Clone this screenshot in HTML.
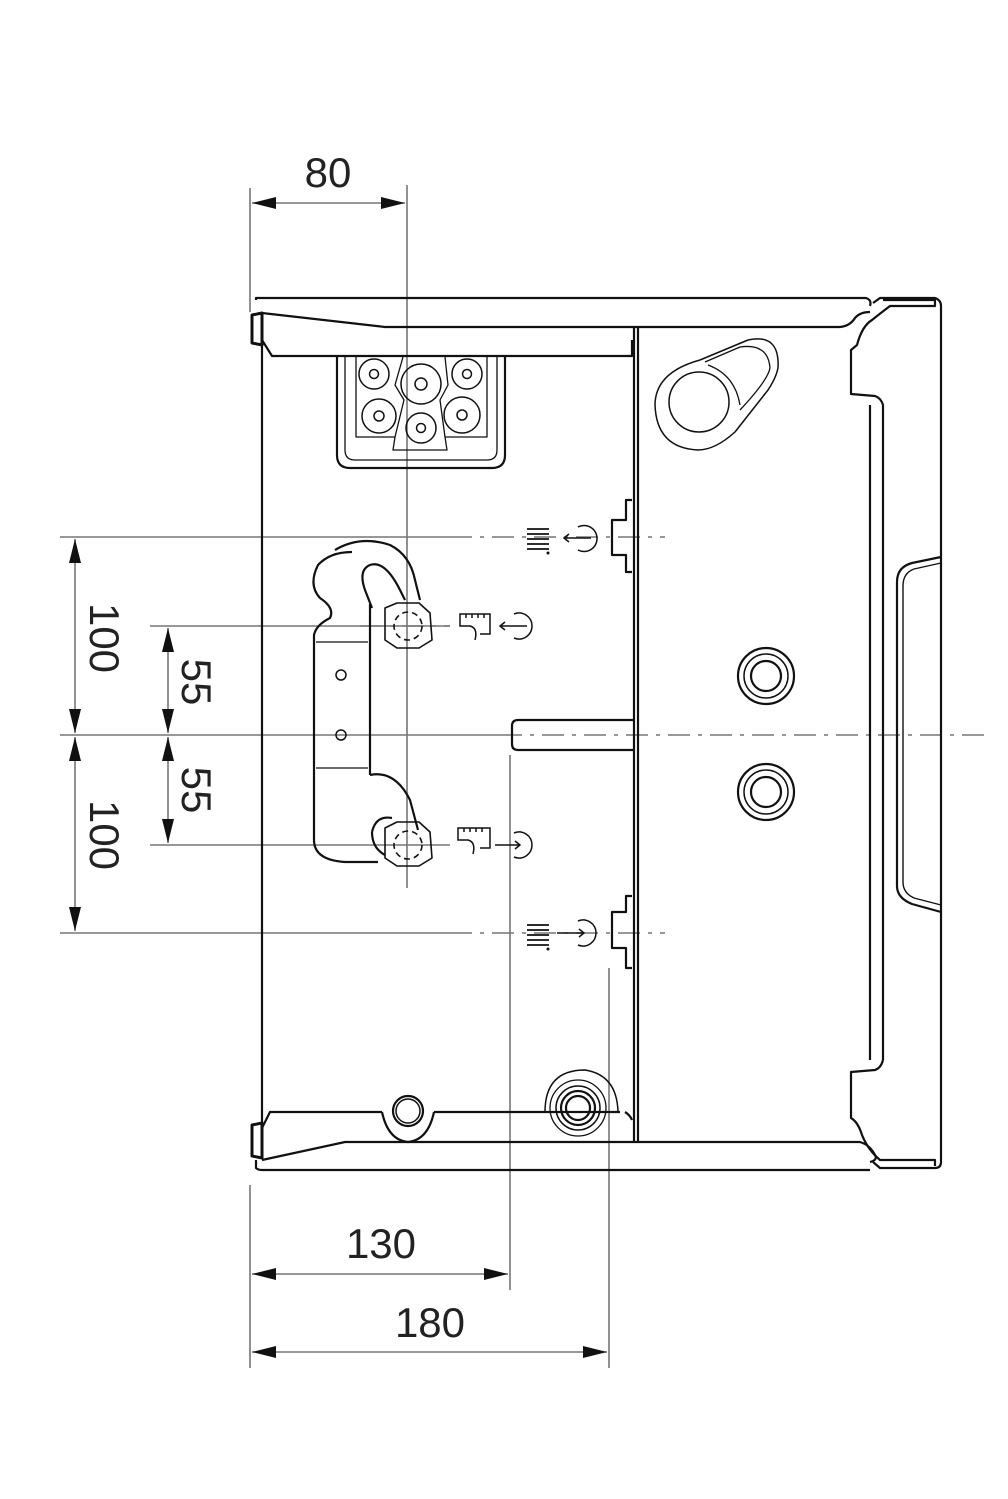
<!DOCTYPE html>
<html><head><meta charset="utf-8"><style>
html,body{margin:0;padding:0;background:#fff}
svg{display:block}
text{font-family:"Liberation Sans",sans-serif;font-size:42px;fill:#222}
</style></head><body>
<svg width="1008" height="1499" viewBox="0 0 1008 1499" xmlns="http://www.w3.org/2000/svg">
<defs>
<marker id="a" markerWidth="24" markerHeight="12" refX="24" refY="6" orient="auto" markerUnits="userSpaceOnUse"><path d="M0,0 L24,6 L0,12 z" fill="#111"/></marker>
<marker id="b" markerWidth="24" markerHeight="12" refX="0" refY="6" orient="auto" markerUnits="userSpaceOnUse"><path d="M24,0 L0,6 L24,12 z" fill="#111"/></marker>
</defs>
<g fill="none" stroke="#777" stroke-width="1.6">
<!-- dimension / extension lines -->
<line x1="250" y1="188" x2="250" y2="312"/>
<line x1="407" y1="185" x2="407" y2="888"/>
<line x1="252" y1="203" x2="405" y2="203" marker-start="url(#b)" marker-end="url(#a)"/>
<line x1="60" y1="537" x2="450" y2="537"/>
<line x1="150" y1="626" x2="450" y2="626"/>
<line x1="150" y1="845" x2="450" y2="845"/>
<line x1="60" y1="933" x2="450" y2="933"/>
<line x1="60" y1="735" x2="500" y2="735"/>
<line x1="75" y1="539" x2="75" y2="733" marker-start="url(#b)" marker-end="url(#a)"/>
<line x1="75" y1="737" x2="75" y2="931" marker-start="url(#b)" marker-end="url(#a)"/>
<line x1="168" y1="628" x2="168" y2="733" marker-start="url(#b)" marker-end="url(#a)"/>
<line x1="168" y1="737" x2="168" y2="843" marker-start="url(#b)" marker-end="url(#a)"/>
<line x1="250" y1="1185" x2="250" y2="1368"/>
<line x1="510" y1="755" x2="510" y2="1290"/>
<line x1="609" y1="968" x2="609" y2="1368"/>
<line x1="252" y1="1274" x2="508" y2="1274" marker-start="url(#b)" marker-end="url(#a)"/>
<line x1="252" y1="1352" x2="607" y2="1352" marker-start="url(#b)" marker-end="url(#a)"/>
<!-- dash-dot center lines -->
<g stroke-dasharray="22,8,4,8">
<line x1="450" y1="537" x2="665" y2="537"/>
<line x1="450" y1="933" x2="665" y2="933"/>
<line x1="500" y1="735" x2="990" y2="735"/>
<line x1="360" y1="626" x2="450" y2="626"/>
</g>
</g>
<text x="328" y="187" text-anchor="middle">80</text>
<text x="381" y="1258" text-anchor="middle">130</text>
<text x="430" y="1337" text-anchor="middle">180</text>
<text transform="translate(90,638) rotate(90)" text-anchor="middle">100</text>
<text transform="translate(182,682) rotate(90)" text-anchor="middle">55</text>
<text transform="translate(182,790) rotate(90)" text-anchor="middle">55</text>
<text transform="translate(90,835) rotate(90)" text-anchor="middle">100</text>

<g fill="none" stroke="#111" stroke-width="2.2" stroke-linejoin="round">
<!-- top rails -->
<path d="M256,300 L256,298 L866,298 Q872,300 870,306"/>
<path d="M262,313 L385,327 L840,327 Q850,326 855,318 Q860,312 870,312"/>
<path d="M262,340 L272,356 L632,356 L632,340"/>
<line x1="262" y1="313" x2="262" y2="1140"/>
<path d="M252,315 L262,313 L262,345 L252,343 Z" stroke-width="3"/>
<!-- divider -->
<line x1="634" y1="327" x2="634" y2="1142"/>
<line x1="638" y1="327" x2="638" y2="1142"/>
<!-- right cabinet -->
<path d="M873,303 L880,298 L935,298 Q941,300 941,306 L941,1162 Q941,1168 935,1168 L880,1168 L873,1162"/>
<path d="M883,300 L935,300 L935,306 L890,306 Q882,312 872,320 Q862,326 857,345 L851,350 L851,394 L875,396 Q881,398 883,405 L883,1060"/>
<line x1="870" y1="405" x2="870" y2="1060"/>
<path d="M883,1060 Q881,1068 875,1070 L851,1072 L851,1118 Q858,1122 862,1135 Q868,1150 880,1160 L935,1160 L935,1166"/>
<path d="M941,557 L912,563 Q897,567 897,582 L897,886 Q897,898 912,904 L941,912"/>
<path d="M941,563 L914,569 Q903,573 903,586 L903,882 Q903,893 914,898 L941,905" stroke-width="1.4"/>
<!-- bottom rails -->
<path d="M262,1128 L270,1112 L382,1112"/>
<path d="M434,1112 L620,1112"/>
<path d="M625,1112 Q630,1115 632,1120"/>
<path d="M262,1160 L345,1142 L860,1142 Q870,1145 875,1155 Q878,1160 870,1162"/>
<path d="M256,1160 L256,1168 Q258,1170 262,1170 L870,1170"/>
<path d="M252,1125 L262,1123 L262,1158 L252,1156 Z" stroke-width="3"/>
<path d="M382,1112 Q388,1140 408,1142 Q428,1140 434,1112"/>
<!-- connector block -->
<path d="M337,357 L337,455 Q337,468 350,468 L492,468 Q505,468 505,455 L505,357"/>
<path d="M345,357 L345,450 Q345,460 355,460 L487,460 Q497,460 497,450 L497,357" stroke-width="1.3"/>
<path d="M356,357 L356,437 L395,437 L393,450 L447,450 L445,437 L487,437 L487,357" stroke-width="1.3"/>
<path d="M403,357 L395,385 L404,400 L395,437 M445,357 L448,385 L440,400 L445,437" stroke-width="1.3"/>
<g stroke-width="1.5">
<circle cx="374" cy="374" r="15"/><circle cx="374" cy="374" r="4.5"/>
<circle cx="421" cy="384" r="20"/><circle cx="421" cy="384" r="6"/>
<circle cx="467" cy="374" r="15"/><circle cx="467" cy="374" r="4.5"/>
<circle cx="379" cy="416" r="17"/><circle cx="379" cy="416" r="5"/>
<circle cx="421" cy="428" r="15"/><circle cx="421" cy="428" r="4.5"/>
<circle cx="462" cy="415" r="18"/><circle cx="462" cy="415" r="5"/>
</g>
<!-- teardrop -->
<path d="M700,360 L748,340 Q780,333 778,368 Q776,378 768,390 L735,432 Q715,450 698,450 Q656,448 655,404 Q656,372 700,360 Z" stroke-width="1.5"/>
<circle cx="699" cy="402" r="30" stroke-width="1.5"/>
<path d="M705,362 L740,347 Q768,343 770,368 Q768,380 740,410 M708,365 Q735,375 740,405" stroke-width="1.3"/>
<!-- right bosses -->
<g><circle cx="766" cy="676" r="28"/><circle cx="766" cy="676" r="22" stroke-width="1.5"/><circle cx="766" cy="676" r="15"/>
<circle cx="766" cy="792" r="28"/><circle cx="766" cy="792" r="22" stroke-width="1.5"/><circle cx="766" cy="792" r="15"/></g>
<!-- bottom bosses -->
<circle cx="408" cy="1111" r="15"/><circle cx="408" cy="1111" r="12" stroke-width="1.5"/>
<path d="M545,1112 Q545,1070 585,1070 Q617,1075 618,1112" stroke-width="1.5"/>
<circle cx="578" cy="1108" r="28" stroke-width="1.3"/>
<circle cx="578" cy="1108" r="22" stroke-width="1.5"/>
<circle cx="578" cy="1108" r="17"/>
<circle cx="578" cy="1108" r="12"/>
<!-- center slot -->
<path d="M634,720 L518,720 Q512,720 512,726 L512,744 Q512,750 518,750 L634,750"/>
<!-- brackets -->
<path d="M632,500 L626,500 L626,520 L612,520 L612,555 L626,555 L626,572 L632,572"/>
<path d="M632,896 L626,896 L626,912 L612,912 L612,948 L626,948 L626,968 L632,968"/>
<!-- mounting hook -->
<path d="M352,552 Q330,552 318,565 Q308,585 320,598 Q335,608 330,618 Q316,625 314,635 L314,840 Q314,860 345,862 L378,862"/>
<path d="M335,550 Q360,535 390,545 Q410,555 415,580 L420,600"/>
<path d="M365,590 Q358,570 370,565 Q385,560 400,590 L405,600 M365,590 L372,608"/>
<line x1="370" y1="604" x2="370" y2="775"/>
<line x1="316" y1="642" x2="368" y2="642" stroke-width="1.2"/>
<line x1="316" y1="768" x2="368" y2="768" stroke-width="1.2"/>
<circle cx="341" cy="675" r="5" stroke-width="1.5"/>
<circle cx="341" cy="735" r="5" stroke-width="1.5"/>
<path d="M370,775 Q395,770 410,800 L418,830"/>
<path d="M372,832 Q376,815 392,818 M372,832 Q372,848 385,855"/>
<g stroke-width="1.6">
<path d="M385,608 L397,603 L419,603 L430,613 L432,640 L419,648 L397,648 L385,640 Z"/>
<circle cx="408" cy="626" r="14" stroke-dasharray="6,4"/>
<path d="M385,828 L397,822 L419,822 L430,832 L432,858 L419,866 L397,866 L385,858 Z"/>
<circle cx="408" cy="845" r="14" stroke-dasharray="6,4"/>
</g>
</g>
<!-- symbols -->
<g fill="none" stroke="#111" stroke-width="1.8">
<g id="s1"><path d="M527,529 h22 M527,534 h22 M527,539 h22 M527,544 h22 M527,549 h22"/></g>
<path d="M527,925 h22 M527,930 h22 M527,935 h22 M527,940 h22 M527,945 h22"/>
<path d="M578,527 A13,13 0 1 1 578,550 M591,538 h-26 M569,534 l-5,4 l5,4" stroke-width="1.5"/>
<path d="M514,614 A13,13 0 1 1 514,638 M527,626 h-26 M505,622 l-5,4 l5,4" stroke-width="1.5"/>
<path d="M514,833 A13,13 0 1 1 514,857 M495,845 h24 M515,841 l5,4 l-5,4" stroke-width="1.5"/>
<path d="M578,921 A13,13 0 1 1 578,945 M557,933 h26 M579,929 l5,4 l-5,4" stroke-width="1.5"/>
<path d="M460,618 L460,614 L490,614 L490,634 L480,634 M460,618 L460,626 L470,626 Q478,628 475,640 M466,614 v4 M472,614 v4 M478,614 v4 M484,614 v4" stroke-width="1.5"/>
<path d="M458,832 L458,828 L490,828 L490,848 L480,848 M458,832 L458,840 L468,840 Q476,842 473,854 M464,828 v4 M470,828 v4 M476,828 v4 M482,828 v4" stroke-width="1.5"/>
</g>
<circle cx="548" cy="553" r="1.5" fill="#111"/>
<circle cx="548" cy="949" r="1.5" fill="#111"/>
</svg>
</body></html>
